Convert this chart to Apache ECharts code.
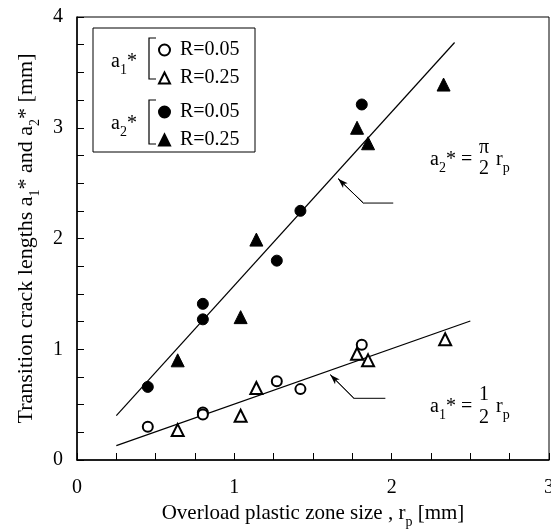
<!DOCTYPE html>
<html>
<head>
<meta charset="utf-8">
<script src="https://cdn.jsdelivr.net/npm/echarts@6/dist/echarts.min.js"></script>
<style>
  html, body { margin: 0; padding: 0; background: #fff; }
  #chart { width: 551px; height: 529px; }
</style>
</head>
<body>
<div id="chart"></div>
<script>
// measured data (rp [mm], crack length [mm])
var a1R005 = [[0.45, 0.30], [0.80, 0.43], [0.80, 0.41], [1.27, 0.71], [1.42, 0.64], [1.81, 1.04]];
var a1R025 = [[0.64, 0.27], [1.04, 0.40], [1.14, 0.65], [1.78, 0.96], [1.85, 0.90], [2.34, 1.09]];
var a2R005 = [[0.45, 0.66], [0.80, 1.41], [0.80, 1.27], [1.27, 1.80], [1.42, 2.25], [1.81, 3.21]];
var a2R025 = [[0.64, 0.90], [1.04, 1.29], [1.14, 1.99], [1.78, 3.00], [1.85, 2.86], [2.33, 3.39]];
// fitted lines a2* = pi/2 rp, a1* = 1/2 rp
var fitA2 = [[0.25, 0.40], [2.40, 3.77]];
var fitA1 = [[0.25, 0.13], [2.50, 1.255]];
// leader lines for the formulas
var leadA2 = [[1.66, 2.54], [1.82, 2.32], [2.01, 2.32]];
var leadA1 = [[1.61, 0.77], [1.76, 0.557], [1.96, 0.557]];

var FONT = 'Liberation Serif';
var chart = echarts.init(document.getElementById('chart'));

function scatter(name, data, symbol, size) {
  return {
    name: name, type: 'scatter', data: data,
    symbol: symbol, symbolSize: size,
    itemStyle: { color: '#000', borderColor: '#000', borderWidth: 1, opacity: 1 },
    z: 5
  };
}
function leader(data) {
  return {
    type: 'line', data: data, symbol: 'none', silent: true,
    lineStyle: { color: '#000', width: 1 },
    markLine: {
      silent: true, symbol: ['none', 'arrow'], symbolSize: [5, 10],
      label: { show: false },
      lineStyle: { color: '#000', width: 1, type: 'solid' },
      data: [[{ coord: data[1] }, { coord: data[0] }]]
    }
  };
}
function txt(x, y, s, size, align) {
  return {
    type: 'text', x: x, y: y, z: 10,
    style: {
      text: s, rich: subRich, fontFamily: FONT, fontSize: size, fill: '#000',
      align: align || 'left', verticalAlign: 'middle'
    }
  };
}

var subRich = { s: { fontSize: 14, fontFamily: FONT, verticalAlign: 'bottom', padding: [0, 0, -5, 0] } };

chart.setOption({
  animation: false,
  grid: {
    left: 77, right: 2, top: 17, bottom: 69, outerBoundsMode: 'none', containLabel: false,
    show: true, borderColor: '#000', borderWidth: 1
  },
  xAxis: {
    type: 'value', min: 0, max: 3, interval: 1,
    name: 'Overload plastic zone size , r{s|p} [mm]',
    nameLocation: 'middle', nameGap: 42,
    nameTextStyle: { fontFamily: FONT, fontSize: 21, color: '#000', rich: subRich },
    axisLine: { lineStyle: { color: '#000', width: 1.5 } },
    axisTick: { inside: true, length: 7, lineStyle: { color: '#000' } },
    minorTick: { show: true, splitNumber: 4, length: 7, lineStyle: { color: '#000' } },
    axisLabel: { fontFamily: FONT, fontSize: 20, color: '#000', margin: 18 },
    splitLine: { show: false }
  },
  yAxis: {
    type: 'value', min: 0, max: 4, interval: 1,
    name: 'Transition crack lengths a{s|1}* and a{s|2}* [mm]',
    nameLocation: 'middle', nameGap: 40, nameRotate: 90,
    nameTextStyle: { fontFamily: FONT, fontSize: 22, color: '#000', rich: subRich },
    axisLine: { lineStyle: { color: '#000', width: 1.5 } },
    axisTick: { inside: true, length: 7, lineStyle: { color: '#000' } },
    minorTick: { show: true, splitNumber: 4, length: 7, lineStyle: { color: '#000' } },
    axisLabel: { fontFamily: FONT, fontSize: 20, color: '#000', margin: 14 },
    splitLine: { show: false }
  },
  legend: [
    {
      data: ['a1 R=0.05', 'a1 R=0.25'], orient: 'vertical', left: 158, top: 40, padding: 0,
      itemWidth: 11, itemHeight: 11, itemGap: 8, selectedMode: false,
      formatter: function (n) { return n.split(' ')[1]; },
      textStyle: { fontFamily: FONT, fontSize: 20, color: '#000', padding: [0, 0, 0, 5] }
    },
    {
      data: ['a2 R=0.05', 'a2 R=0.25'], orient: 'vertical', left: 158, top: 102, padding: 0,
      itemWidth: 11, itemHeight: 11, itemGap: 8, selectedMode: false,
      formatter: function (n) { return n.split(' ')[1]; },
      textStyle: { fontFamily: FONT, fontSize: 20, color: '#000', padding: [0, 0, 0, 5] }
    }
  ],
  graphic: [
    { type: 'rect', shape: { x: 93, y: 28, width: 162, height: 124 }, style: { fill: 'none', stroke: '#000', lineWidth: 1 }, z: 10 },
    { type: 'polyline', shape: { points: [[156, 38], [149, 38], [149, 79], [156, 79]] }, style: { fill: 'none', stroke: '#000', lineWidth: 1.2 }, z: 10 },
    { type: 'polyline', shape: { points: [[156, 100], [149, 100], [149, 144], [156, 144]] }, style: { fill: 'none', stroke: '#000', lineWidth: 1.2 }, z: 10 },
    txt(111, 62, 'a{s|1}*', 20),
    txt(111, 124, 'a{s|2}*', 20),
    // a2* = pi/2 rp
    txt(430, 160, 'a{s|2}* =', 20),
    txt(484, 148, 'π', 20, 'center'),
    txt(484, 169, '2', 20, 'center'),
    txt(496, 160, 'r{s|p}', 20),
    // a1* = 1/2 rp
    txt(430, 407, 'a{s|1}* =', 20),
    txt(484, 395, '1', 20, 'center'),
    txt(484, 418, '2', 20, 'center'),
    txt(496, 407, 'r{s|p}', 20)
  ],
  series: [
    { type: 'line', data: fitA2, symbol: 'none', silent: true, lineStyle: { color: '#000', width: 1.2 } },
    { type: 'line', data: fitA1, symbol: 'none', silent: true, lineStyle: { color: '#000', width: 1.2 } },
    leader(leadA2),
    leader(leadA1),
    scatter('a1 R=0.05', a1R005, 'emptyCircle', 10),
    scatter('a1 R=0.25', a1R025, 'emptyTriangle', 12),
    scatter('a2 R=0.05', a2R005, 'circle', 11),
    scatter('a2 R=0.25', a2R025, 'triangle', 13)
  ]
});
</script>
</body>
</html>
